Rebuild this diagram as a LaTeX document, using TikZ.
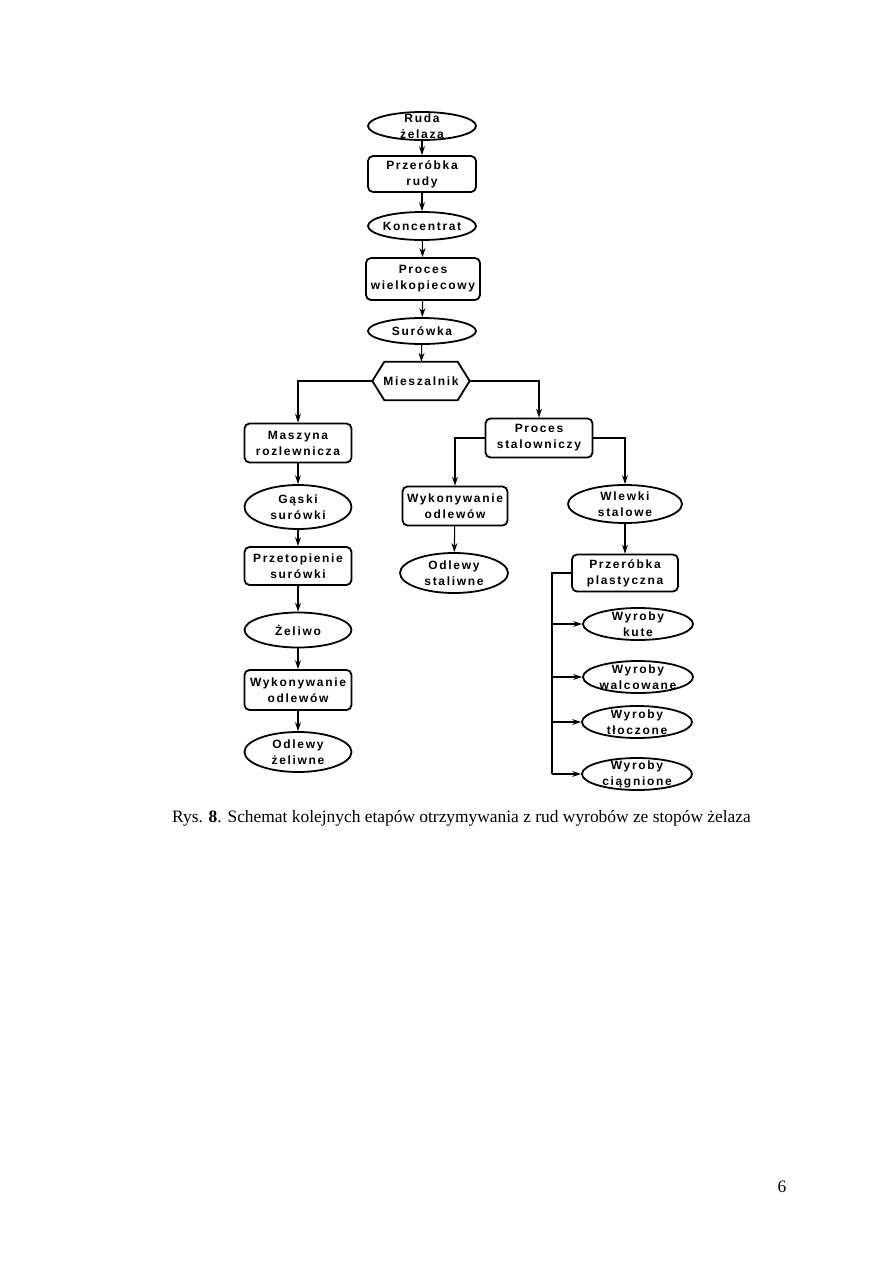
\documentclass[tikz,border=0pt]{standalone}
\usepackage{fontspec}
\setmainfont{Liberation Serif}
\newfontfamily\boxfont[LetterSpace=14]{Liberation Sans}
\usepackage{tikz}
\usetikzlibrary{arrows.meta,shapes.geometric}

\tikzset{
  etap/.style={draw,line width=1.8pt,rounded corners=5pt,inner sep=0pt,align=center,
    font=\boxfont\bfseries\fontsize{12}{16}\selectfont},
  produkt/.style={draw,ellipse,line width=1.8pt,inner sep=-20pt,align=center,
    font=\boxfont\bfseries\fontsize{12}{16}\selectfont},
  laczn/.style={line width=1.1pt},
  strz/.style={laczn,-{Stealth[length=9pt,width=6pt]}}
}

\begin{document}
\begin{tikzpicture}[x=1pt,y=-1pt]
  \useasboundingbox (0,0) rectangle (893,1263);
  % glowny ciag
  \node[produkt,minimum width=108,minimum height=28] (ruda) at (422,126) {Ruda\\żelaza};
  \node[etap,minimum width=108,minimum height=36] (przer) at (422,174) {Przeróbka\\rudy};
  \node[produkt,minimum width=108,minimum height=28] (konc) at (422,226) {Koncentrat};
  \node[etap,minimum width=114,minimum height=42] (wielk) at (423,279) {Proces\\wielkopiecowy};
  \node[produkt,minimum width=108,minimum height=26] (sur) at (422,331) {Surówka};
  \node[font=\boxfont\bfseries\fontsize{12}{16}\selectfont,minimum width=97,minimum height=38,inner sep=0pt] (mix) at (421,381) {Mieszalnik};
  \draw[line width=1.8pt,line join=round] (mix.west) -- ([xshift=12pt]mix.north west) -- ([xshift=-12pt]mix.north east)
    -- (mix.east) -- ([xshift=-12pt]mix.south east) -- ([xshift=12pt]mix.south west) -- cycle;
  \foreach \a/\b in {ruda/przer,przer/konc,konc/wielk,wielk/sur,sur/mix}
    \draw[strz] (\a) -- (\b);

  % zeliwo
  \node[etap,minimum width=107,minimum height=39] (masz) at (298,443) {Maszyna\\rozlewnicza};
  \node[produkt,minimum width=107,minimum height=44] (gaski) at (298,507) {Gąski\\surówki};
  \node[etap,minimum width=107,minimum height=38] (przet) at (298,566) {Przetopienie\\surówki};
  \node[produkt,minimum width=107,minimum height=35] (zel) at (298,630) {Żeliwo};
  \node[etap,minimum width=107,minimum height=40] (wyk1) at (298,690) {Wykonywanie\\odlewów};
  \node[produkt,minimum width=107,minimum height=40] (odzel) at (298,752) {Odlewy\\żeliwne};
  \draw[strz] (mix.west) -| (masz.north);
  \foreach \a/\b in {masz/gaski,gaski/przet,przet/zel,zel/wyk1,wyk1/odzel}
    \draw[strz] (\a) -- (\b);

  % stal
  \node[etap,minimum width=107,minimum height=39] (stal) at (539,438) {Proces\\stalowniczy};
  \node[etap,minimum width=105,minimum height=39] (wyk2) at (455,506) {Wykonywanie\\odlewów};
  \node[produkt,minimum width=108,minimum height=40] (odst) at (454,573) {Odlewy\\staliwne};
  \node[produkt,minimum width=114,minimum height=38] (wlewki) at (625,504) {Wlewki\\stalowe};
  \node[etap,minimum width=106,minimum height=37] (plast) at (625,573) {Przeróbka\\plastyczna};
  \draw[strz] (mix.east) -| (stal.north);
  \draw[strz] (stal.west) -| (wyk2.north);
  \draw[strz] (stal.east) -| (wlewki.north);
  \draw[strz] (wyk2) -- (odst);
  \draw[strz] (wlewki) -- (plast);

  % wyroby
  \node[produkt,minimum width=110,minimum height=32] (kute) at (638,624) {Wyroby\\kute};
  \node[produkt,minimum width=110,minimum height=32] (walc) at (638,677) {Wyroby\\walcowane};
  \node[produkt,minimum width=110,minimum height=32] (tlocz) at (637,722) {Wyroby\\tłoczone};
  \node[produkt,minimum width=110,minimum height=32] (ciag) at (637,774) {Wyroby\\ciągnione};
  \coordinate (szyna) at (552,573);
  \draw[laczn] (plast.west) -- (szyna |- plast.west) -- (szyna |- ciag.west);
  \foreach \n in {kute,walc,tlocz,ciag}
    \draw[strz] (szyna |- \n.west) -- (\n.west);

  \node[anchor=base west,font=\fontsize{17.4}{19}\selectfont,inner sep=0pt] (podpis) at (172,822)
    {Rys. \textbf{8}. Schemat kolejnych etapów otrzymywania z rud wyrobów ze stopów żelaza};
  \node[anchor=base,font=\fontsize{17.4}{19}\selectfont,inner sep=0pt] (strona) at (782,1192) {6};
\end{tikzpicture}
\end{document}
